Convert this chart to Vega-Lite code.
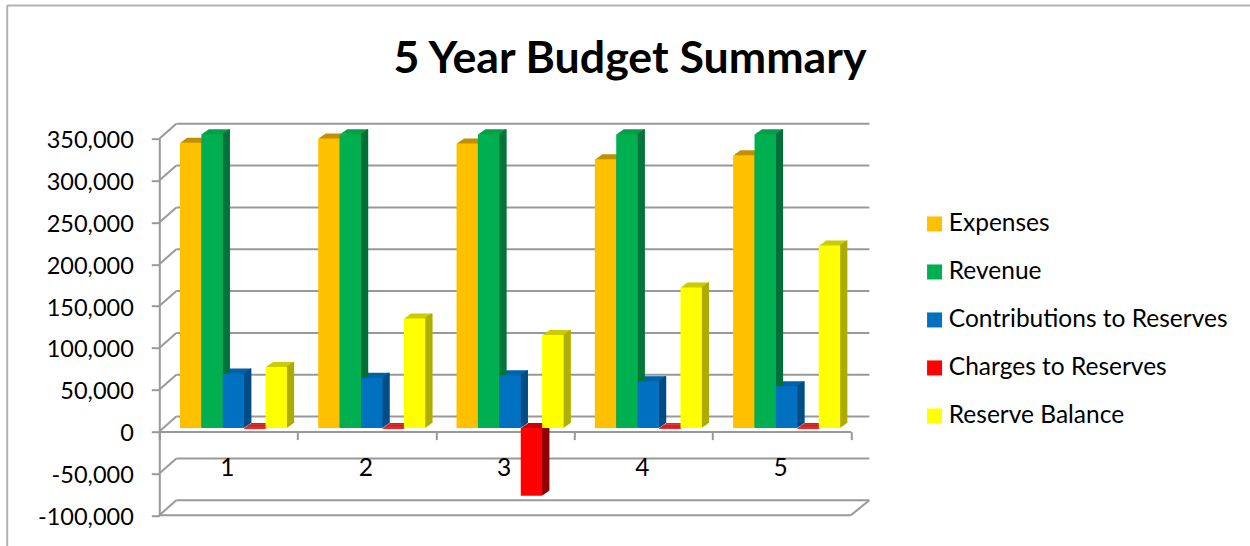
{
"$schema":"https://vega.github.io/schema/vega-lite/v6.json",
"width":691.5,"height":376.6,
"autosize":"none",
"padding":{"left":159.3,"top":138.7,"right":399.2,"bottom":30.7},
"background":"white",
"title":{"text":"5 Year Budget Summary","font":"Lato","fontSize":44.7,"fontWeight":"bold","color":"black","anchor":"middle","dx":125,"offset":-78},
"config":{"view":{"stroke":null},"font":"Lato"},
"datasets":{
"bars":[
{"year":"1","series":"Expenses","value":341000},{"year":"1","series":"Revenue","value":351000},{"year":"1","series":"Contributions to Reserves","value":65000},{"year":"1","series":"Charges to Reserves","value":-1000},{"year":"1","series":"Reserve Balance","value":73000},
{"year":"2","series":"Expenses","value":346000},{"year":"2","series":"Revenue","value":351000},{"year":"2","series":"Contributions to Reserves","value":60000},{"year":"2","series":"Charges to Reserves","value":-1000},{"year":"2","series":"Reserve Balance","value":131000},
{"year":"3","series":"Expenses","value":340000},{"year":"3","series":"Revenue","value":351000},{"year":"3","series":"Contributions to Reserves","value":63000},{"year":"3","series":"Charges to Reserves","value":-81000},{"year":"3","series":"Reserve Balance","value":111000},
{"year":"4","series":"Expenses","value":321000},{"year":"4","series":"Revenue","value":351000},{"year":"4","series":"Contributions to Reserves","value":56000},{"year":"4","series":"Charges to Reserves","value":-1000},{"year":"4","series":"Reserve Balance","value":168000},
{"year":"5","series":"Expenses","value":326000},{"year":"5","series":"Revenue","value":351000},{"year":"5","series":"Contributions to Reserves","value":50000},{"year":"5","series":"Charges to Reserves","value":-1000},{"year":"5","series":"Reserve Balance","value":218000}
],
"walls":[
{"a":0.123,"b":5.134,"y":-82075,"y2":-82075},{"a":0.123,"b":5.134,"y":-32075,"y2":-32075},{"a":0.123,"b":5.134,"y":17925,"y2":17925},{"a":0.123,"b":5.134,"y":67925,"y2":67925},{"a":0.123,"b":5.134,"y":117925,"y2":117925},{"a":0.123,"b":5.134,"y":167925,"y2":167925},{"a":0.123,"b":5.134,"y":217925,"y2":217925},{"a":0.123,"b":5.134,"y":267925,"y2":267925},{"a":0.123,"b":5.134,"y":317925,"y2":317925},{"a":0.123,"b":5.134,"y":367925,"y2":367925},
{"a":0,"b":0.123,"y":-100000,"y2":-82075},{"a":0,"b":0.123,"y":-50000,"y2":-32075},{"a":0,"b":0.123,"y":0,"y2":17925},{"a":0,"b":0.123,"y":50000,"y2":67925},{"a":0,"b":0.123,"y":100000,"y2":117925},{"a":0,"b":0.123,"y":150000,"y2":167925},{"a":0,"b":0.123,"y":200000,"y2":217925},{"a":0,"b":0.123,"y":250000,"y2":267925},{"a":0,"b":0.123,"y":300000,"y2":317925},{"a":0,"b":0.123,"y":350000,"y2":367925},
{"a":0,"b":5,"y":-100000,"y2":-100000},{"a":5,"b":5.134,"y":-100000,"y2":-82075}
],
"frame":[
{"a":-1.1,"b":-1.1,"y":509200,"y2":-136700},{"a":-1.1,"b":7.89,"y":509200,"y2":509200}
]
},
"layer":[
{"data":{"name":"frame"},"mark":{"type":"rule","color":"#b3b3b3","strokeWidth":2},
"encoding":{"x":{"field":"a","type":"quantitative","scale":{"domain":[0,5],"nice":false,"zero":false},"axis":null},"x2":{"field":"b"},
"y":{"field":"y","type":"quantitative","scale":{"domain":[-100000,350000],"nice":false},"axis":{"orient":"left","values":[-100000,-50000,0,50000,100000,150000,200000,250000,300000,350000],"labelExpr":"replace(format(datum.value,','),'−','-')","title":null,"grid":false,"domainColor":"#999999","domainWidth":2,"tickColor":"#999999","tickWidth":2,"tickSize":8,"labelFontSize":23.5,"labelFont":"Lato","labelColor":"black","labelPadding":18,"labelOffset":2}},"y2":{"field":"y2"}}},
{"data":{"name":"walls"},"mark":{"type":"rule","color":"#999999","strokeWidth":2},
"encoding":{"x":{"field":"a","type":"quantitative","scale":{"domain":[0,5],"nice":false,"zero":false},"axis":{"orient":"bottom","values":[0,1,2,3,4,5],"labels":false,"title":null,"grid":false,"offset":-83.7,"domainColor":"#999999","domainWidth":2,"tickColor":"#999999","tickWidth":2,"tickSize":8}},"x2":{"field":"b"},
"y":{"field":"y","type":"quantitative"},"y2":{"field":"y2"}}},
{"data":{"name":"bars"},
"encoding":{
"xOffset":{"field":"series","type":"nominal","scale":{"domain":["Expenses","Revenue","Contributions to Reserves","Charges to Reserves","Reserve Balance"],"range":[0,138.3],"paddingInner":0,"paddingOuter":0.73}},
"y":{"field":"value","type":"quantitative","stack":null},
"y2":{"datum":0}
},
"resolve":{"scale":{"color":"independent","x":"independent"}},
"layer":[
{"mark":{"type":"bar","yOffset":-4.31,"y2Offset":-4.31},"encoding":{"x":{"field":"year","type":"nominal","axis":null,"scale":{"range":[6,697.5],"paddingInner":0,"paddingOuter":0}},"color":{"field":"series","legend":null,"scale":{"domain":["Expenses","Revenue","Contributions to Reserves","Charges to Reserves","Reserve Balance"],"range":["#C09000","#00A04A","#0062A8","#CC0000","#CCCC00"]}}}},
{"mark":{"type":"bar","yOffset":-5.03,"y2Offset":-5.03},"encoding":{"x":{"field":"year","type":"nominal","axis":null,"scale":{"range":[7,698.5],"paddingInner":0,"paddingOuter":0}},"color":{"field":"series","legend":null,"scale":{"domain":["Expenses","Revenue","Contributions to Reserves","Charges to Reserves","Reserve Balance"],"range":["#C09000","#00A04A","#0062A8","#CC0000","#CCCC00"]}}}},
{"mark":{"type":"bar","yOffset":-5.74,"y2Offset":-5.74},"encoding":{"x":{"field":"year","type":"nominal","axis":null,"scale":{"range":[8,699.5],"paddingInner":0,"paddingOuter":0}},"color":{"field":"series","legend":null,"scale":{"domain":["Expenses","Revenue","Contributions to Reserves","Charges to Reserves","Reserve Balance"],"range":["#C09000","#00A04A","#0062A8","#CC0000","#CCCC00"]}}}},
{"mark":{"type":"bar","yOffset":-6.46,"y2Offset":-6.46},"encoding":{"x":{"field":"year","type":"nominal","axis":null,"scale":{"range":[9,700.5],"paddingInner":0,"paddingOuter":0}},"color":{"field":"series","legend":null,"scale":{"domain":["Expenses","Revenue","Contributions to Reserves","Charges to Reserves","Reserve Balance"],"range":["#C09000","#00A04A","#0062A8","#CC0000","#CCCC00"]}}}},
{"mark":{"type":"bar","yOffset":-7.17,"y2Offset":-7.17},"encoding":{"x":{"field":"year","type":"nominal","axis":null,"scale":{"range":[10,701.5],"paddingInner":0,"paddingOuter":0}},"color":{"field":"series","legend":null,"scale":{"domain":["Expenses","Revenue","Contributions to Reserves","Charges to Reserves","Reserve Balance"],"range":["#C09000","#00A04A","#0062A8","#CC0000","#CCCC00"]}}}},
{"mark":{"type":"bar","yOffset":-7.89,"y2Offset":-7.89},"encoding":{"x":{"field":"year","type":"nominal","axis":null,"scale":{"range":[11,702.5],"paddingInner":0,"paddingOuter":0}},"color":{"field":"series","legend":null,"scale":{"domain":["Expenses","Revenue","Contributions to Reserves","Charges to Reserves","Reserve Balance"],"range":["#C09000","#00A04A","#0062A8","#CC0000","#CCCC00"]}}}},
{"mark":{"type":"bar","yOffset":-8.6,"y2Offset":-8.6},"encoding":{"x":{"field":"year","type":"nominal","axis":null,"scale":{"range":[12,703.5],"paddingInner":0,"paddingOuter":0}},"color":{"field":"series","legend":null,"scale":{"domain":["Expenses","Revenue","Contributions to Reserves","Charges to Reserves","Reserve Balance"],"range":["#C09000","#00A04A","#0062A8","#CC0000","#CCCC00"]}}}},
{"mark":{"type":"bar","width":1.3,"yOffset":-4.31,"y2Offset":-4.31},"encoding":{"x":{"field":"year","type":"nominal","axis":null,"scale":{"range":[16.2,707.7],"paddingInner":0,"paddingOuter":0}},"color":{"field":"series","legend":null,"scale":{"domain":["Expenses","Revenue","Contributions to Reserves","Charges to Reserves","Reserve Balance"],"range":["#A87E00","#007038","#004C83","#8F0000","#ACAC00"]}}}},
{"mark":{"type":"bar","width":1.3,"yOffset":-5.03,"y2Offset":-5.03},"encoding":{"x":{"field":"year","type":"nominal","axis":null,"scale":{"range":[17.2,708.7],"paddingInner":0,"paddingOuter":0}},"color":{"field":"series","legend":null,"scale":{"domain":["Expenses","Revenue","Contributions to Reserves","Charges to Reserves","Reserve Balance"],"range":["#A87E00","#007038","#004C83","#8F0000","#ACAC00"]}}}},
{"mark":{"type":"bar","width":1.3,"yOffset":-5.74,"y2Offset":-5.74},"encoding":{"x":{"field":"year","type":"nominal","axis":null,"scale":{"range":[18.2,709.7],"paddingInner":0,"paddingOuter":0}},"color":{"field":"series","legend":null,"scale":{"domain":["Expenses","Revenue","Contributions to Reserves","Charges to Reserves","Reserve Balance"],"range":["#A87E00","#007038","#004C83","#8F0000","#ACAC00"]}}}},
{"mark":{"type":"bar","width":1.3,"yOffset":-6.46,"y2Offset":-6.46},"encoding":{"x":{"field":"year","type":"nominal","axis":null,"scale":{"range":[19.2,710.7],"paddingInner":0,"paddingOuter":0}},"color":{"field":"series","legend":null,"scale":{"domain":["Expenses","Revenue","Contributions to Reserves","Charges to Reserves","Reserve Balance"],"range":["#A87E00","#007038","#004C83","#8F0000","#ACAC00"]}}}},
{"mark":{"type":"bar","width":1.3,"yOffset":-7.17,"y2Offset":-7.17},"encoding":{"x":{"field":"year","type":"nominal","axis":null,"scale":{"range":[20.2,711.7],"paddingInner":0,"paddingOuter":0}},"color":{"field":"series","legend":null,"scale":{"domain":["Expenses","Revenue","Contributions to Reserves","Charges to Reserves","Reserve Balance"],"range":["#A87E00","#007038","#004C83","#8F0000","#ACAC00"]}}}},
{"mark":{"type":"bar","width":1.3,"yOffset":-7.89,"y2Offset":-7.89},"encoding":{"x":{"field":"year","type":"nominal","axis":null,"scale":{"range":[21.2,712.7],"paddingInner":0,"paddingOuter":0}},"color":{"field":"series","legend":null,"scale":{"domain":["Expenses","Revenue","Contributions to Reserves","Charges to Reserves","Reserve Balance"],"range":["#A87E00","#007038","#004C83","#8F0000","#ACAC00"]}}}},
{"mark":{"type":"bar","width":1.3,"yOffset":-8.6,"y2Offset":-8.6},"encoding":{"x":{"field":"year","type":"nominal","axis":null,"scale":{"range":[22.2,713.7],"paddingInner":0,"paddingOuter":0}},"color":{"field":"series","legend":null,"scale":{"domain":["Expenses","Revenue","Contributions to Reserves","Charges to Reserves","Reserve Balance"],"range":["#A87E00","#007038","#004C83","#8F0000","#ACAC00"]}}}},
{"mark":{"type":"bar","yOffset":-3.6,"y2Offset":-3.6},"encoding":{"x":{"field":"year","type":"nominal","scale":{"range":[5,696.5],"paddingInner":0,"paddingOuter":0},"axis":{"orient":"bottom","title":null,"domain":false,"ticks":false,"labelAngle":0,"offset":-83.7,"labelPadding":25,"labelOffset":-6,"labelFontSize":24.5,"labelFont":"Lato","labelColor":"black","zindex":1}},"color":{"field":"series","scale":{"domain":["Expenses","Revenue","Contributions to Reserves","Charges to Reserves","Reserve Balance"],"range":["#FFC000","#00B050","#0070C0","#FF0000","#FFFF00"]},"legend":{"title":null,"orient":"none","legendX":763,"legendY":73,"symbolType":"square","symbolSize":225,"symbolStrokeWidth":0,"symbolOpacity":1,"labelFontSize":24.5,"labelFont":"Lato","labelColor":"black","labelOffset":2,"rowPadding":23,"labelLimit":320}}}}
]
}
],
"resolve":{"scale":{"x":"independent"}}
}
